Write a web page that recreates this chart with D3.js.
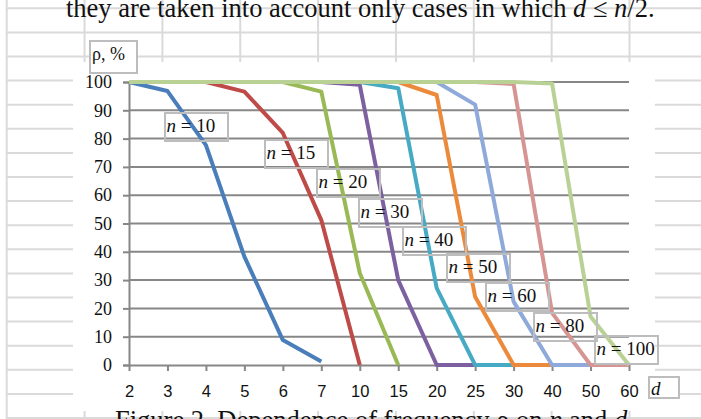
<!DOCTYPE html>
<html>
<head>
<meta charset="utf-8">
<script src="https://cdn.jsdelivr.net/npm/d3@7"></script>
<style>
  html, body { margin: 0; padding: 0; background: #fff; }
  svg { display: block; }
</style>
</head>
<body>
<svg id="chart" width="701" height="419"></svg>
<script>
// ── Data ──────────────────────────────────────────────────────────────────────
const dLabels = ['2', '3', '4', '5', '6', '7', '10', '15', '20', '25', '30', '40', '50', '60'];
const yTicks  = [0, 10, 20, 30, 40, 50, 60, 70, 80, 90, 100];

const n10  = [100, 96.8, 77.7, 38.3, 8.8, 1.2];
const n15  = [100, 100, 100, 96.6, 82, 51.2, 0];
const n20  = [100, 100, 100, 100, 100, 96.6, 32.5, 0];
const n30  = [100, 100, 100, 100, 100, 100, 99, 30, 0, 0];
const n40  = [100, 100, 100, 100, 100, 100, 100, 97.8, 27.2, 0, 0];
const n50  = [100, 100, 100, 100, 100, 100, 100, 100, 95.4, 24.1, 0, 0];
const n60  = [100, 100, 100, 100, 100, 100, 100, 100, 100, 92, 22.4, 0, 0];
const n80  = [100, 100, 100, 100, 100, 100, 100, 100, 100, 100, 99.3, 18.4, 0, 0];
const n100 = [100, 100, 100, 100, 100, 100, 100, 100, 100, 100, 100, 99.5, 17.1, 0];

const seriesNames = ['10', '15', '20', '30', '40', '50', '60', '80', '100'];
const seriesData  = [n10, n15, n20, n30, n40, n50, n60, n80, n100];

// ── Styles ────────────────────────────────────────────────────────────────────
const colors = ['#4A7EBB', '#BE4B48', '#98B954', '#7D60A0', '#46AAC5',
                '#EC8A3C', '#8FAADA', '#D69592', '#BAD196'];
const serif = 'Liberation Serif, Times New Roman, serif';
const sans  = 'Liberation Sans, Arial, sans-serif';
const axisColor = '#878787';

// label boxes (left, top) in page pixels
const labelPos = [[165, 113], [265, 140], [317, 169], [359, 199], [403, 227],
                  [447, 254], [486, 283], [534, 313], [595, 336]];

const svg = d3.select('#chart');

// ── Spreadsheet background ────────────────────────────────────────────────────
const bg = svg.append('g').attr('stroke', '#DADADA').attr('stroke-width', 2);
for (let k = 0; k <= 8; k++) {
  const gx = 6.7 + 77.85 * k;
  bg.append('line').attr('x1', gx).attr('x2', gx).attr('y1', 0).attr('y2', 419);
}
for (let k = 0; k <= 17; k++) {
  const gy = 8.3 + 24.1 * k;
  bg.append('line').attr('x1', 6.7).attr('x2', 701).attr('y1', gy).attr('y2', gy);
}

// top text line of the page
const headLine = svg.append('text')
  .attr('x', 66).attr('y', 16.5)
  .attr('font-family', serif).attr('font-size', 26.5).attr('fill', '#111');
headLine.append('tspan').text('they are taken into account only cases in which ');
headLine.append('tspan').attr('font-style', 'italic').text('d');
headLine.append('tspan').text(' ≤ ');
headLine.append('tspan').attr('font-style', 'italic').text('n');
headLine.append('tspan').text('/2.');

// chart area
svg.append('rect')
  .attr('x', 73).attr('y', 62).attr('width', 582).attr('height', 349)
  .attr('fill', '#fff');

// ── Scales ────────────────────────────────────────────────────────────────────
const x = d3.scalePoint().domain(dLabels).range([129, 629]);
const y = d3.scaleLinear().domain([0, 100]).range([365, 82]);

// Grid
svg.append('g')
  .selectAll('line')
  .data(yTicks.filter(d => d > 0))
  .join('line')
  .attr('x1', x.range()[0]).attr('x2', x.range()[1])
  .attr('y1', d => y(d)).attr('y2', d => y(d))
  .attr('stroke', axisColor).attr('stroke-width', 2);

// Y axis
const yAxis = svg.append('g')
  .attr('transform', `translate(${x.range()[0]},0)`)
  .call(d3.axisLeft(y).tickValues(yTicks).tickSize(6).tickPadding(11));
yAxis.select('.domain').attr('stroke', axisColor).attr('stroke-width', 2);
yAxis.selectAll('.tick line').attr('stroke', axisColor).attr('stroke-width', 2);
yAxis.selectAll('.tick text')
  .attr('font-family', serif).attr('font-size', 18).attr('fill', '#111');

// X axis
const xAxis = svg.append('g')
  .attr('transform', `translate(0,${y(0)})`)
  .call(d3.axisBottom(x).tickSize(6).tickSizeOuter(0).tickPadding(14));
xAxis.select('.domain').attr('stroke', axisColor).attr('stroke-width', 2);
xAxis.selectAll('.tick line').attr('stroke', axisColor).attr('stroke-width', 2);
xAxis.selectAll('.tick text')
  .attr('font-family', sans).attr('font-size', 16.5).attr('fill', '#111');

// ── Lines ─────────────────────────────────────────────────────────────────────
const line = d3.line()
  .x((d, i) => x(dLabels[i]))
  .y(d => y(d));

svg.append('g')
  .selectAll('path')
  .data(seriesData)
  .join('path')
  .attr('d', line)
  .attr('fill', 'none')
  .attr('stroke', (d, i) => colors[i])
  .attr('stroke-width', 4)
  .attr('stroke-linejoin', 'round');

// ── Labels ────────────────────────────────────────────────────────────────────
const boxStroke = '#BDBDBD';

seriesNames.forEach((name, i) => {
  const [bx, by] = labelPos[i];
  svg.append('rect')
    .attr('x', bx).attr('y', by).attr('width', 63).attr('height', 28)
    .attr('fill', 'none').attr('stroke', boxStroke).attr('stroke-width', 2);
  const t = svg.append('text')
    .attr('x', bx + 1.5).attr('y', by + 19)
    .attr('font-family', serif).attr('font-size', 19).attr('fill', '#111');
  t.append('tspan').attr('font-style', 'italic').text('n');
  t.append('tspan').text(' = ' + name);
});

// axis titles
svg.append('rect')
  .attr('x', 90).attr('y', 41).attr('width', 47).attr('height', 32)
  .attr('fill', '#fff').attr('stroke', boxStroke).attr('stroke-width', 2);
svg.append('text')
  .attr('x', 92).attr('y', 60)
  .attr('font-family', serif).attr('font-size', 18).attr('fill', '#111')
  .text('ρ, %');

svg.append('rect')
  .attr('x', 649).attr('y', 377).attr('width', 30).attr('height', 21)
  .attr('fill', '#fff').attr('stroke', boxStroke).attr('stroke-width', 2);
svg.append('text')
  .attr('x', 651).attr('y', 395)
  .attr('font-family', serif).attr('font-size', 19).attr('font-style', 'italic')
  .attr('fill', '#111')
  .text('d');

// caption (cut by the page edge)
const cap = svg.append('text')
  .attr('x', 115).attr('y', 429)
  .attr('font-family', serif).attr('font-size', 26.5).attr('fill', '#111');
cap.append('tspan').text('Figure 2. Dependence of frequency ρ on ');
cap.append('tspan').attr('font-style', 'italic').text('n');
cap.append('tspan').text(' and ');
cap.append('tspan').attr('font-style', 'italic').text('d');
cap.append('tspan').text('.');
</script>
</body>
</html>
